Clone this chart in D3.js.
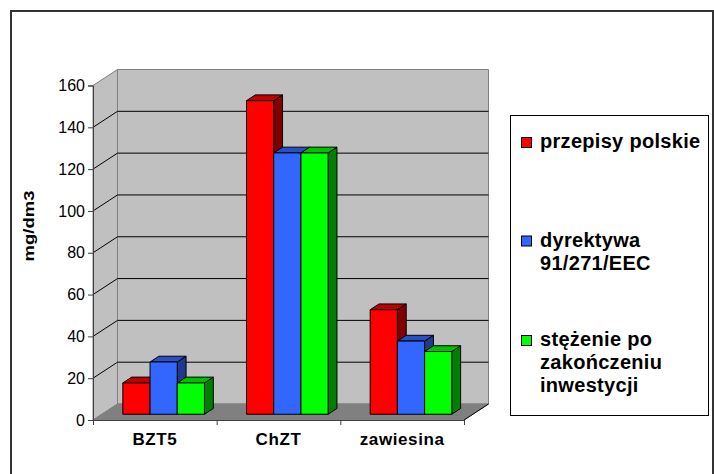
<!DOCTYPE html>
<html>
<head>
<meta charset="utf-8">
<script src="https://cdn.jsdelivr.net/npm/d3@7"></script>
<style>
  body { margin: 0; background: #fff; }
  svg { display: block; font-family: "Liberation Sans", Arial, sans-serif; }
</style>
</head>
<body>
<svg id="chart" width="714" height="474"></svg>
<script>
// data
const categories = ["BZT5", "ChZT", "zawiesina"];
const przepisyPolskie = [15, 150, 50];
const dyrektywa = [25, 125, 35];
const stezenie = [15, 125, 30];
const legendLines = [
  ["przepisy polskie"],
  ["dyrektywa", "91/271/EEC"],
  ["stężenie po", "zakończeniu", "inwestycji"]
];
const yTicks = [0, 20, 40, 60, 80, 100, 120, 140, 160];

const series = [
  { values: przepisyPolskie, front: "#ff0000", top: "#c00000", side: "#800000" },
  { values: dyrektywa, front: "#3366ff", top: "#2a4fc4", side: "#1f3a8c" },
  { values: stezenie, front: "#00ff00", top: "#00c000", side: "#008000" }
];

const svg = d3.select("#chart");

// 3d depth of the plot box
const dx = 24.5, dy = -16;
const barFront = 0.36, barBack = 0.72;

const x0 = d3.scaleBand().domain(categories).range([93, 464])
  .paddingInner(0.34).paddingOuter(0.17);
const x1 = d3.scaleBand().domain(d3.range(series.length)).range([0, x0.bandwidth()]);
const y = d3.scaleLinear().domain([0, 160]).range([420, 85.5]);

const [xl, xr] = x0.range();
const y0 = y(0), yTop = y(160);
const pts = p => p.map(d => d.join(",")).join(" ");

// outer frame
svg.append("rect").attr("x", 11).attr("y", 11).attr("width", 702).attr("height", 480)
  .attr("fill", "none").attr("stroke", "#333").attr("stroke-width", 2);

// walls and floor
const walls = svg.append("g");
walls.append("polygon")
  .attr("points", pts([[xl + dx, yTop + dy], [xr + dx, yTop + dy], [xr + dx, y0 + dy], [xl + dx, y0 + dy]]))
  .attr("fill", "#c0c0c0").attr("stroke", "#808080");
walls.append("polygon")
  .attr("points", pts([[xl, yTop], [xl + dx, yTop + dy], [xl + dx, y0 + dy], [xl, y0]]))
  .attr("fill", "#c0c0c0").attr("stroke", "#808080");
walls.append("polygon")
  .attr("points", pts([[xl, y0], [xl + dx, y0 + dy], [xr + dx, y0 + dy], [xr, y0]]))
  .attr("fill", "#808080").attr("stroke", "#808080");
walls.append("line").attr("x1", xr).attr("y1", y0).attr("x2", xr + dx).attr("y2", y0 + dy)
  .attr("stroke", "#000");

// gridlines on side and back wall
const grid = svg.append("g").attr("stroke", "#000").attr("stroke-width", 1);
yTicks.filter(t => t > 0 && t < 160).forEach(t => {
  grid.append("line").attr("x1", xl).attr("y1", y(t)).attr("x2", xl + dx).attr("y2", y(t) + dy);
  grid.append("line").attr("x1", xl + dx).attr("y1", y(t) + dy).attr("x2", xr + dx).attr("y2", y(t) + dy);
});

// axes
const yAxis = svg.append("g").attr("transform", `translate(${xl},0)`)
  .call(d3.axisLeft(y).tickValues(yTicks).tickSize(5).tickPadding(3));
yAxis.select(".domain").attr("stroke", "#404040");
yAxis.selectAll(".tick line").attr("stroke", "#404040");
yAxis.selectAll("text").attr("font-size", 16).attr("fill", "#000")
  .attr("font-family", "Liberation Sans, Arial, sans-serif");

const xTickScale = d3.scaleLinear().domain([0, categories.length]).range([xl, xr]);
const xAxis = svg.append("g").attr("transform", `translate(0,${y0})`)
  .call(d3.axisBottom(xTickScale).tickValues(d3.range(categories.length + 1)).tickSize(5).tickFormat(""));
xAxis.select(".domain").attr("stroke", "#404040");
xAxis.selectAll(".tick line").attr("stroke", "#404040");

svg.append("g").selectAll("text").data(categories).join("text")
  .attr("x", d => x0(d) - x0.step() * x0.paddingInner() / 2 + x0.step() / 2)
  .attr("y", 445)
  .attr("text-anchor", "middle")
  .attr("font-size", 17).attr("font-weight", "bold").attr("letter-spacing", 0.6)
  .text(d => d);

// 3d bars, left to right
const bars = svg.append("g").attr("stroke", "#000").attr("stroke-width", 1).attr("stroke-linejoin", "round");
const ox = dx * barFront, oy = dy * barFront;
const bx = dx * (barBack - barFront), by = dy * (barBack - barFront);
categories.forEach((c, ci) => {
  series.forEach((s, si) => {
    const left = x0(c) + x1(si) + ox;
    const right = left + x1.bandwidth();
    const top = y(s.values[ci]) + oy;
    const bottom = y0 + oy;
    bars.append("polygon")
      .attr("points", pts([[right, top], [right + bx, top + by], [right + bx, bottom + by], [right, bottom]]))
      .attr("fill", s.side);
    bars.append("polygon")
      .attr("points", pts([[left, top], [left + bx, top + by], [right + bx, top + by], [right, top]]))
      .attr("fill", s.top);
    bars.append("rect").attr("x", left).attr("y", top)
      .attr("width", right - left).attr("height", bottom - top)
      .attr("fill", s.front);
  });
});

// y title
svg.append("text")
  .attr("transform", "translate(34,226) rotate(-90)")
  .attr("text-anchor", "middle")
  .attr("font-size", 15).attr("font-weight", "bold")
  .attr("textLength", 71).attr("lengthAdjust", "spacingAndGlyphs")
  .text("mg/dm3");

// legend
const legend = svg.append("g");
legend.append("rect").attr("x", 510.5).attr("y", 115.5).attr("width", 198).attr("height", 300)
  .attr("fill", "#fff").attr("stroke", "#000");
const entryBase = [148, 246.5, 346];
legendLines.forEach((lines, i) => {
  legend.append("rect").attr("x", 521.5).attr("y", entryBase[i] - 10.5)
    .attr("width", 10).attr("height", 10)
    .attr("fill", series[i].front).attr("stroke", "#000");
  const t = legend.append("text").attr("x", 540).attr("y", entryBase[i])
    .attr("font-size", 20).attr("font-weight", "bold").attr("letter-spacing", 0.3);
  lines.forEach((l, li) => {
    t.append("tspan").attr("x", 540).attr("dy", li === 0 ? 0 : 23.2).text(l);
  });
});
</script>
</body>
</html>
